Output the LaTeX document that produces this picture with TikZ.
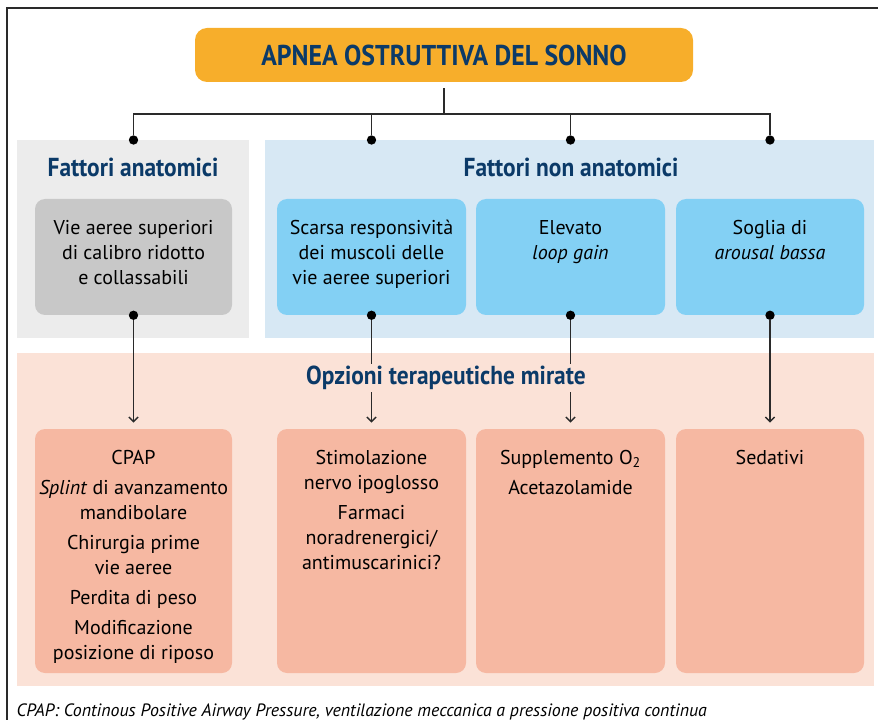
\documentclass[tikz,border=0pt]{standalone}
\usepackage{fontspec}
\setmainfont{PT Sans}
\newfontfamily\headfont{PT Sans}[FakeStretch=0.9]
\usetikzlibrary{positioning,arrows.meta}

\definecolor{navy}{HTML}{0B3A68}
\definecolor{orangetit}{HTML}{F7AE2B}
\definecolor{greyp}{HTML}{ECECEC}
\definecolor{greyb}{HTML}{C8C8C8}
\definecolor{bluep}{HTML}{D7E8F4}
\definecolor{blueb}{HTML}{83D0F4}
\definecolor{salp}{HTML}{FBE2D7}
\definecolor{salb}{HTML}{F6B8A2}
\definecolor{lin}{HTML}{2A2A2A}

\begin{document}
\begin{tikzpicture}[x=0.75pt,y=-0.75pt,
	panel/.style={rectangle, inner sep=0pt, outer sep=0pt},
	box/.style={rectangle, rounded corners=7.5pt, inner sep=0pt, minimum height=87pt},
	lowbox/.style={rectangle, rounded corners=7.5pt, inner sep=0pt, minimum height=183pt, fill=salb},
	txt/.style={align=center, font=\fontsize{15}{18.75}\selectfont},
	head/.style={text=navy, font=\headfont\bfseries\fontsize{19.5}{22}\selectfont},
	dot/.style={circle, fill=black, inner sep=0pt, minimum size=7pt},
	link/.style={line width=1.1pt, draw=lin},
	arr/.style={link, -{Straight Barb[length=3.5pt,width=7pt]}, shorten >=4.5pt}]
	\useasboundingbox (0,0) rectangle (878,720);
	\draw[line width=1pt, draw=lin] (7,720) -- (7,8) -- (878,8);
	%
	\node[rectangle, rounded corners=9pt, fill=orangetit, minimum width=373.5pt, minimum height=40.5pt,
		text=navy, font=\headfont\bfseries\fontsize{21.5}{24}\selectfont] (apnea) at (444,55) {APNEA OSTRUTTIVA DEL SONNO};
	%
	\node[panel, fill=greyp, minimum width=174pt, minimum height=148.5pt] (anat) at (133,239) {};
	\node[panel, fill=bluep, minimum width=456.75pt, minimum height=148.5pt] (nonanat) at (569.5,239) {};
	\node[panel, fill=salp, minimum width=642.75pt, minimum height=249.75pt] (opz) at (445.5,519.5) {};
	\node[head] (h-anat) at (133,167) {Fattori anatomici};
	\node[head] (h-nonanat) at (571,167) {Fattori non anatomici};
	\node[head, inner sep=1.5pt] (h-opz) at (446,378) {Opzioni terapeutiche mirate};
	%
	\node[box, fill=greyb, minimum width=147.75pt] (vie) at (133.5,257) {};
	\node[box, fill=blueb, minimum width=141.75pt] (musc) at (371.5,257) {};
	\node[box, fill=blueb, minimum width=141.75pt] (loop) at (570.5,257) {};
	\node[box, fill=blueb, minimum width=141pt] (arous) at (770,257) {};
	\node[txt, below=12.5pt of vie.north] (t-vie) {Vie aeree superiori\\di calibro ridotto\\e collassabili};
	\node[txt, below=12.5pt of musc.north] (t-musc) {Scarsa responsività\\dei muscoli delle\\vie aeree superiori};
	\node[txt, below=12.5pt of loop.north] (t-loop) {Elevato\\\textit{loop gain}};
	\node[txt, below=12.5pt of arous.north] (t-arous) {Soglia di\\\textit{arousal bassa}};
	%
	\node[lowbox, minimum width=147.75pt] (cpap) at (133.5,551) {};
	\node[lowbox, minimum width=141.75pt] (stim) at (371.5,551) {};
	\node[lowbox, minimum width=141.75pt] (ossi) at (570.5,551) {};
	\node[lowbox, minimum width=141pt] (sed) at (770,551) {};
	\node[txt, below=12.5pt of cpap.north] (t-cpap) {CPAP\\[3.75pt]\textit{Splint} di avanzamento\\mandibolare\\[3.75pt]Chirurgia prime\\vie aeree\\[3.75pt]Perdita di peso\\[3.75pt]Modificazione\\posizione di riposo};
	\node[txt, below=12.5pt of stim.north] (t-stim) {Stimolazione\\nervo ipoglosso\\[3.75pt]Farmaci\\noradrenergici/\\antimuscarinici?};
	\node[txt, below=12.5pt of ossi.north] (t-ossi) {Supplemento O\textsubscript{2}\\[3.75pt]Acetazolamide};
	\node[txt, below=12.5pt of sed.north] (t-sed) {Sedativi};
	%
	\node[dot] (dt1) at (vie |- anat.north) {};
	\node[dot] (dt2) at (musc |- anat.north) {};
	\node[dot] (dt3) at (loop |- anat.north) {};
	\node[dot] (dt4) at (arous |- anat.north) {};
	\node[dot] (db1) at (vie.south) {};
	\node[dot] (db2) at (musc.south) {};
	\node[dot] (db3) at (loop.south) {};
	\node[dot] (db4) at (arous.south) {};
	\coordinate (br) at (444,114);
	\draw[link] ([yshift=-4.5pt]apnea.south) -- (br);
	\draw[link] (dt1) -- (dt1 |- br) -- (dt4 |- br) -- (dt4);
	\draw[link] (dt2) -- (dt2 |- br);
	\draw[link] (dt3) -- (dt3 |- br);
	%
	\draw[arr] (db1) -- (cpap.north);
	\draw[link] (db2) -- (db2 |- h-opz.north);
	\draw[arr] (db2 |- h-opz.south) -- (stim.north);
	\draw[link] (db3) -- (db3 |- h-opz.north);
	\draw[arr] (db3 |- h-opz.south) -- (ossi.north);
	\draw[arr] (db4) -- (sed.north);
	%
	\node[anchor=base west, font=\itshape\fontsize{13.4}{16}\selectfont] (nota) at (12,716)
		{CPAP: Continous Positive Airway Pressure, ventilazione meccanica a pressione positiva continua};
\end{tikzpicture}
\end{document}
